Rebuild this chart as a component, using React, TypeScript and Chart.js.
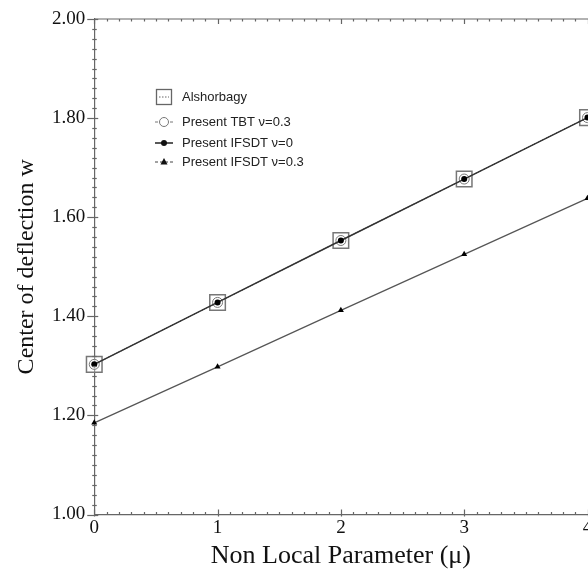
import React, { useEffect, useRef } from 'react';
import { Chart, registerables } from 'chart.js';

Chart.register(...registerables);

// ---- data ----
const muValues = [0, 1, 2, 3, 4];
const alshorbagy = [1.303, 1.428, 1.553, 1.677, 1.801];
const presentTBT = [1.303, 1.428, 1.553, 1.677, 1.801];
const presentIFSDT0 = [1.303, 1.428, 1.553, 1.677, 1.801];
const presentIFSDT03 = [1.185, 1.298, 1.412, 1.525, 1.638];
const xTickValues = [0, 1, 2, 3, 4];
const yTickValues = [1.0, 1.2, 1.4, 1.6, 1.8, 2.0];
const seriesNames = ['Alshorbagy', 'Present TBT ν=0.3', 'Present IFSDT ν=0', 'Present IFSDT ν=0.3'];
const xTitle = 'Non Local Parameter (μ)';
const yTitle = 'Center of deflection w';

const pts = (ys: number[]) => muValues.map((x, i) => ({ x, y: ys[i] }));

const SERIF = "'Liberation Serif', 'Times New Roman', serif";
const SANS = "'Liberation Sans', Arial, sans-serif";

const frameAndTicks = {
  id: 'frameAndTicks',
  afterDraw(chart: any) {
    const { ctx, chartArea, scales } = chart;
    const x = scales.x;
    const y = scales.y;
    ctx.save();
    ctx.strokeStyle = '#666';
    ctx.lineWidth = 1.2;
    // top border
    ctx.beginPath();
    ctx.moveTo(chartArea.left, chartArea.top);
    ctx.lineTo(chartArea.right + 2, chartArea.top);
    ctx.stroke();
    // x minor/major ticks (bottom and top)
    for (let i = 0; i <= 40; i++) {
      const v = i / 10;
      const px = Math.round(x.getPixelForValue(v)) + 0.5;
      const major = i % 10 === 0;
      ctx.beginPath();
      ctx.moveTo(px, chartArea.bottom + (major ? 2 : 0));
      ctx.lineTo(px, chartArea.bottom - (major ? 5 : 2.5));
      ctx.moveTo(px, chartArea.top);
      ctx.lineTo(px, chartArea.top + (major ? 5 : 2.5));
      ctx.stroke();
    }
    // y ticks
    for (let i = 0; i <= 50; i++) {
      const v = 1 + i * 0.02;
      const py = Math.round(y.getPixelForValue(v)) + 0.5;
      const major = i % 10 === 0;
      ctx.beginPath();
      ctx.moveTo(chartArea.left - (major ? 7 : 2), py);
      ctx.lineTo(chartArea.left + (major ? 4 : 2.5), py);
      ctx.stroke();
    }
    ctx.restore();
  },
};

const legendPlugin = {
  id: 'insetLegend',
  afterDraw(chart: any) {
    const { ctx } = chart;
    const lx = 164;
    const tx = 182;
    const rows = [97, 122, 143, 162];
    ctx.save();
    ctx.font = `13px ${SANS}`;
    ctx.fillStyle = '#222';
    ctx.textBaseline = 'middle';
    ctx.textAlign = 'left';
    // row 0: square with dotted line
    ctx.strokeStyle = '#666';
    ctx.lineWidth = 1.3;
    ctx.strokeRect(lx - 7.5, rows[0] - 7.5, 15, 15);
    ctx.setLineDash([1.5, 1.5]);
    ctx.lineWidth = 1;
    ctx.beginPath();
    ctx.moveTo(lx - 5, rows[0]);
    ctx.lineTo(lx + 5, rows[0]);
    ctx.stroke();
    ctx.setLineDash([]);
    // row 1: open circle with dashes
    ctx.strokeStyle = '#777';
    ctx.beginPath();
    ctx.moveTo(lx - 9, rows[1]);
    ctx.lineTo(lx - 6, rows[1]);
    ctx.moveTo(lx + 6, rows[1]);
    ctx.lineTo(lx + 9, rows[1]);
    ctx.stroke();
    ctx.beginPath();
    ctx.arc(lx, rows[1], 4.5, 0, Math.PI * 2);
    ctx.stroke();
    // row 2: solid line with dot
    ctx.strokeStyle = '#222';
    ctx.lineWidth = 1.5;
    ctx.beginPath();
    ctx.moveTo(lx - 9, rows[2]);
    ctx.lineTo(lx + 9, rows[2]);
    ctx.stroke();
    ctx.fillStyle = '#111';
    ctx.beginPath();
    ctx.arc(lx, rows[2], 3, 0, Math.PI * 2);
    ctx.fill();
    // row 3: dashed line with triangle
    ctx.strokeStyle = '#444';
    ctx.lineWidth = 1;
    ctx.setLineDash([3, 2]);
    ctx.beginPath();
    ctx.moveTo(lx - 9, rows[3]);
    ctx.lineTo(lx + 9, rows[3]);
    ctx.stroke();
    ctx.setLineDash([]);
    ctx.beginPath();
    ctx.moveTo(lx, rows[3] - 4);
    ctx.lineTo(lx + 3.5, rows[3] + 2.5);
    ctx.lineTo(lx - 3.5, rows[3] + 2.5);
    ctx.closePath();
    ctx.fill();
    // text
    ctx.fillStyle = '#222';
    seriesNames.forEach((name, i) => ctx.fillText(name, tx, rows[i]));
    ctx.restore();
  },
};

export default function App() {
  const ref = useRef<HTMLCanvasElement | null>(null);
  useEffect(() => {
    if (!ref.current) return;
    const chart = new Chart(ref.current, {
      type: 'scatter',
      data: {
        datasets: [
          {
            label: seriesNames[2],
            data: pts(presentIFSDT0),
            showLine: true,
            clip: false,
            borderColor: '#333',
            borderWidth: 1.5,
            pointStyle: 'circle',
            pointRadius: 3,
            pointBackgroundColor: '#000',
            pointBorderColor: '#000',
            pointBorderWidth: 0,
            order: 1,
          },
          {
            label: seriesNames[1],
            data: pts(presentTBT),
            showLine: true,
            clip: false,
            borderColor: '#777',
            borderWidth: 1,
            borderDash: [3, 2],
            pointStyle: 'circle',
            pointRadius: 5,
            pointBackgroundColor: 'rgba(255,255,255,0.6)',
            pointBorderColor: '#777',
            pointBorderWidth: 1,
            order: 2,
          },
          {
            label: seriesNames[0],
            data: pts(alshorbagy),
            showLine: true,
            clip: false,
            borderColor: '#666',
            borderWidth: 1,
            borderDash: [1.5, 1.5],
            pointStyle: 'rect',
            pointRadius: 11,
            pointBackgroundColor: 'rgba(255,255,255,0.3)',
            pointBorderColor: '#777',
            pointBorderWidth: 1.5,
            order: 3,
          },
          {
            label: seriesNames[3],
            data: pts(presentIFSDT03),
            showLine: true,
            clip: false,
            borderColor: '#555',
            borderWidth: 1.2,
            pointStyle: 'triangle',
            pointRadius: 3.5,
            pointBackgroundColor: '#000',
            pointBorderColor: '#000',
            pointBorderWidth: 0,
            order: 4,
          },
        ],
      },
      options: {
        responsive: false,
        animation: false,
        layout: { padding: { left: 15, right: 12, top: 19, bottom: 0 } },
        plugins: { legend: { display: false }, tooltip: { enabled: false } },
        scales: {
          x: {
            type: 'linear',
            min: 0,
            max: 4,
            afterBuildTicks: (s: any) => {
              s.ticks = xTickValues.map((v) => ({ value: v }));
            },
            ticks: {
              font: { family: SERIF, size: 19, lineHeight: 1 },
              color: '#111',
              padding: 4.5,
              maxRotation: 0,
              callback: (v: any) => String(v),
            },
            grid: { display: false, drawTicks: false },
            border: { display: true, color: '#666', width: 1.2 },
            title: {
              display: true,
              text: xTitle,
              font: { family: SERIF, size: 26, lineHeight: 1 },
              color: '#111',
              padding: { top: 0.5, bottom: 0 },
            },
          },
          y: {
            type: 'linear',
            min: 1,
            max: 2,
            afterBuildTicks: (s: any) => {
              s.ticks = yTickValues.map((v) => ({ value: v }));
            },
            ticks: {
              font: { family: SERIF, size: 19, lineHeight: 1 },
              color: '#111',
              padding: 9,
              callback: (v: any) => Number(v).toFixed(2),
            },
            grid: { display: false, drawTicks: false },
            border: { display: true, color: '#666', width: 1.2 },
            title: {
              display: true,
              text: yTitle,
              font: { family: SERIF, size: 24, lineHeight: 1 },
              color: '#111',
              padding: { top: 0, bottom: 4 },
            },
          },
        },
      },
      plugins: [frameAndTicks, legendPlugin],
    });
    return () => chart.destroy();
  }, []);

  return (
    <div style={{ position: 'absolute', left: 0, top: 0, width: 588, height: 569, overflow: 'hidden', background: '#fff' }}>
      <canvas ref={ref} width={600} height={569} style={{ display: 'block' }} />
    </div>
  );
}
